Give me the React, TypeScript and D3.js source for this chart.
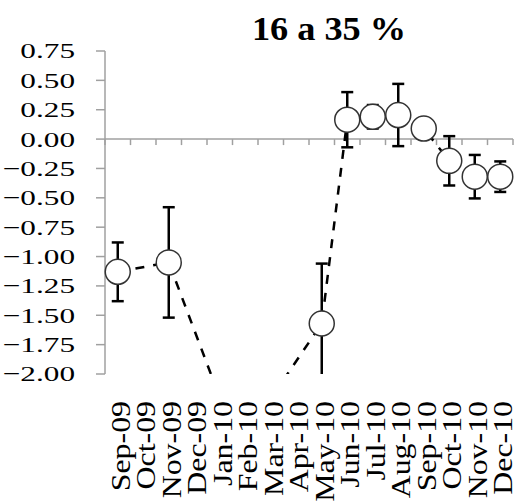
import React from 'react';
import * as d3 from 'd3';

const months = ['Sep-09', 'Oct-09', 'Nov-09', 'Dec-09', 'Jan-10', 'Feb-10', 'Mar-10', 'Apr-10', 'May-10', 'Jun-10', 'Jul-10', 'Aug-10', 'Sep-10', 'Oct-10', 'Nov-10', 'Dec-10'];
const means: (number | null)[] = [-1.13, null, -1.05, null, -2.2, null, -2.21, null, -1.57, 0.165, 0.19, 0.205, 0.09, -0.185, -0.32, -0.32];
const errs: (number | null)[] = [0.25, null, 0.47, null, 0.15, null, 0.15, null, 0.51, 0.235, 0.1, 0.265, 0.04, 0.21, 0.185, 0.13];
const yTicks = [0.75, 0.5, 0.25, 0, -0.25, -0.5, -0.75, -1, -1.25, -1.5, -1.75, -2];
const title = '16 a 35 %';

const W = 514;
const H = 501;
const left = 105;
const right = 513;
const top = 51;
const bottom = 374;

export default function App() {
  const x = d3.scaleBand<string>().domain(months).range([left, right]).padding(0);
  const y = d3.scaleLinear().domain([-2, 0.75]).range([bottom, top]);
  const cx = (m: string) => (x(m) as number) + x.bandwidth() / 2;

  const pts = months
    .map((m, i) => ({ m, v: means[i], e: errs[i] }))
    .filter((d) => d.v !== null) as { m: string; v: number; e: number | null }[];

  const line = d3
    .line<{ m: string; v: number }>()
    .x((d) => cx(d.m))
    .y((d) => y(d.v));

  const axisColor = '#a0a0a0';
  const serifStyle = { fontFamily: "'Liberation Serif', 'Times New Roman', Times, serif" };
  const boundaries = d3.range(months.length + 1).map((i) => left + i * x.step());

  return (
    <svg width={W} height={H} style={{ position: 'absolute', left: 0, top: 0, background: '#fff' }}>
      <defs>
        <clipPath id="plot">
          <rect x={100} y={0} width={W - 100} height={bottom} />
        </clipPath>
      </defs>
      <rect x={0} y={0} width={W} height={H} fill="#fff" />

      {/* title */}
      <g transform={`translate(329,39.5) scale(1.1,1)`}>
        <text textAnchor="middle" style={serifStyle} fontWeight="bold" fontSize={33} fill="#000">
          {title}
        </text>
      </g>

      {/* y axis */}
      <line x1={left} x2={left} y1={top} y2={bottom} stroke={axisColor} strokeWidth={1.5} />
      {yTicks.map((t) => (
        <g key={t}>
          <line x1={left - 9} x2={left} y1={y(t)} y2={y(t)} stroke={axisColor} strokeWidth={1.5} />
          <g transform={`translate(75,${y(t)}) scale(1.42,1)`}>
            <text textAnchor="end" dy="0.34em" style={serifStyle} fontSize={22} fill="#000">
              {d3.format('.2f')(t)}
            </text>
          </g>
        </g>
      ))}

      {/* x axis at zero */}
      <line x1={left} x2={right} y1={y(0)} y2={y(0)} stroke={axisColor} strokeWidth={1.5} />
      {boundaries.map((b, i) => (
        <line key={i} x1={b} x2={b} y1={y(0)} y2={y(0) + 6} stroke={axisColor} strokeWidth={1.5} />
      ))}

      {/* x labels */}
      {months.map((m) => (
        <g key={m} transform={`translate(${cx(m) + 12},401) rotate(-90) scale(1.18,1)`}>
          <text textAnchor="end" style={serifStyle} fontSize={27} fill="#000">
            {m}
          </text>
        </g>
      ))}

      <g clipPath="url(#plot)">
        <path d={line(pts) || ''} fill="none" stroke="#000" strokeWidth={2.5} strokeDasharray="9,9" />
        {pts
          .filter((d) => d.e !== null)
          .map((d) => {
            const px = cx(d.m);
            const e = d.e as number;
            const y1 = y(d.v + e);
            const y2 = y(d.v - e);
            return (
              <g key={'e' + d.m} stroke="#000" strokeWidth={2.5}>
                <line x1={px} x2={px} y1={y1} y2={y2} />
                <line x1={px - 6} x2={px + 6} y1={y1} y2={y1} />
                <line x1={px - 6} x2={px + 6} y1={y2} y2={y2} />
              </g>
            );
          })}
        {pts.map((d) => (
          <circle key={'c' + d.m} cx={cx(d.m)} cy={y(d.v)} r={12.5} fill="#fff" stroke="#333" strokeWidth={1.5} />
        ))}
      </g>
    </svg>
  );
}
